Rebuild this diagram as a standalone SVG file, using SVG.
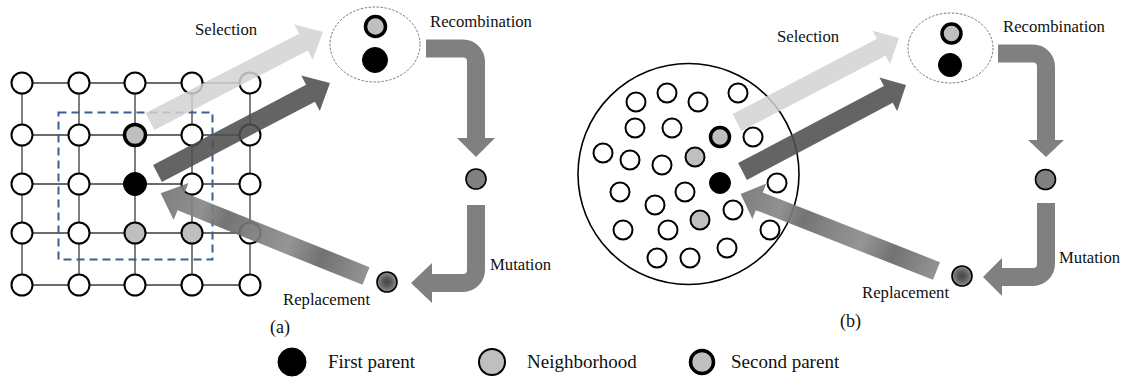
<svg xmlns="http://www.w3.org/2000/svg" width="1128" height="385" viewBox="0 0 1128 385">
<style>
.lbl{font-family:"Liberation Serif","Times New Roman",serif;font-size:16.7px;fill:#111}
.cap{font-family:"Liberation Serif","Times New Roman",serif;font-size:18px;fill:#111}
.leg{font-family:"Liberation Serif","Times New Roman",serif;font-size:19px;fill:#111}
.gl{stroke:#3a3a3a;stroke-width:1.3;fill:none}
.n{fill:#fff;stroke:#000;stroke-width:2}
.nb{fill:#bfbfbf;stroke:#000;stroke-width:2}
.sp{fill:#bfbfbf;stroke:#000;stroke-width:3.5}
.fp{fill:#000;stroke:#000;stroke-width:1}
.mid{fill:#808080;stroke:#000;stroke-width:1.6}
.rep{fill:url(#rg);stroke:#000;stroke-width:1.6}
.pool{fill:none;stroke:#777;stroke-width:1;stroke-dasharray:2.5 1.5}
.light{fill:#d2d2d2;opacity:0.85}
.dark{fill:#4f4f4f;opacity:0.88}
.bend{fill:none;stroke:#808080;stroke-width:18}
.head{fill:#808080}
</style>
<defs>
<radialGradient id="rg" cx="0.5" cy="0.5" r="0.5">
<stop offset="0" stop-color="#454545"/>
<stop offset="0.45" stop-color="#5c5c5c"/>
<stop offset="1" stop-color="#8e8e8e"/>
</radialGradient>
<linearGradient id="ga" gradientUnits="userSpaceOnUse" x1="366" y1="276" x2="161" y2="193">
<stop offset="0" stop-color="#8a8a8a"/>
<stop offset="0.22" stop-color="#666"/>
<stop offset="0.38" stop-color="#8c8c8c"/>
<stop offset="0.55" stop-color="#7a7a7a"/>
<stop offset="0.68" stop-color="#686868"/>
<stop offset="0.8" stop-color="#878787"/>
<stop offset="1" stop-color="#747474"/>
</linearGradient>
<linearGradient id="gb" gradientUnits="userSpaceOnUse" x1="936" y1="271" x2="741" y2="194">
<stop offset="0" stop-color="#8a8a8a"/>
<stop offset="0.22" stop-color="#666"/>
<stop offset="0.38" stop-color="#8c8c8c"/>
<stop offset="0.55" stop-color="#7a7a7a"/>
<stop offset="0.68" stop-color="#686868"/>
<stop offset="0.8" stop-color="#878787"/>
<stop offset="1" stop-color="#747474"/>
</linearGradient>
</defs>
<rect width="1128" height="385" fill="#fff"/>

<!-- (a) cellular grid -->
<g id="grid-lines" class="gl">
<line x1="22" y1="83" x2="250" y2="83"/>
<line x1="22" y1="135" x2="250" y2="135"/>
<line x1="22" y1="184" x2="250" y2="184"/>
<line x1="22" y1="233" x2="250" y2="233"/>
<line x1="22" y1="285" x2="250" y2="285"/>
<line x1="22" y1="83" x2="22" y2="285"/>
<line x1="79" y1="83" x2="79" y2="285"/>
<line x1="135" y1="83" x2="135" y2="285"/>
<line x1="192" y1="83" x2="192" y2="285"/>
<line x1="250" y1="83" x2="250" y2="285"/>
</g>
<g id="neighborhood-box"><rect x="58.5" y="112.5" width="154" height="147" fill="none" stroke="#3b6190" stroke-width="2" stroke-dasharray="8 5"/></g>
<g id="grid-nodes">
<circle class="n" cx="22" cy="83" r="10.5"/><circle class="n" cx="79" cy="83" r="10.5"/><circle class="n" cx="135" cy="83" r="10.5"/><circle class="n" cx="192" cy="83" r="10.5"/><circle class="n" cx="250" cy="83" r="10.5"/>
<circle class="n" cx="22" cy="135" r="10.5"/><circle class="n" cx="79" cy="135" r="10.5"/><circle class="sp" cx="135" cy="135" r="10.5"/><circle class="n" cx="192" cy="135" r="10.5"/><circle class="n" cx="250" cy="135" r="10.5"/>
<circle class="n" cx="22" cy="184" r="10.5"/><circle class="n" cx="79" cy="184" r="10.5"/><circle class="fp" cx="135" cy="184" r="11.5"/><circle class="n" cx="192" cy="184" r="10.5"/><circle class="n" cx="250" cy="184" r="10.5"/>
<circle class="n" cx="22" cy="233" r="10.5"/><circle class="n" cx="79" cy="233" r="10.5"/><circle class="nb" cx="135" cy="233" r="10.5"/><circle class="nb" cx="192" cy="233" r="10.5"/><circle class="n" cx="250" cy="233" r="10.5"/>
<circle class="n" cx="22" cy="285" r="10.5"/><circle class="n" cx="79" cy="285" r="10.5"/><circle class="n" cx="135" cy="285" r="10.5"/><circle class="n" cx="192" cy="285" r="10.5"/><circle class="n" cx="250" cy="285" r="10.5"/>
</g>

<!-- (b) panmictic population -->
<g id="population">
<circle cx="688.5" cy="174" r="110.5" fill="none" stroke="#000" stroke-width="1.6"/>
<circle class="n" cx="636" cy="102" r="9.5"/><circle class="n" cx="667" cy="93" r="9.5"/><circle class="n" cx="698" cy="102" r="9.5"/><circle class="n" cx="738" cy="93" r="9.5"/>
<circle class="n" cx="635" cy="128" r="9.5"/><circle class="n" cx="672" cy="128" r="9.5"/><circle class="sp" cx="720" cy="137" r="9.5"/><circle class="n" cx="753" cy="137" r="9.5"/>
<circle class="n" cx="603" cy="153" r="9.5"/><circle class="n" cx="630" cy="160" r="9.5"/><circle class="n" cx="662" cy="165" r="9.5"/><circle class="nb" cx="695" cy="157" r="9.5"/><circle class="fp" cx="720" cy="183" r="10.5"/><circle class="n" cx="777" cy="183" r="9.5"/>
<circle class="n" cx="620" cy="192" r="9.5"/><circle class="n" cx="685" cy="192" r="9.5"/><circle class="n" cx="655" cy="205" r="9.5"/><circle class="n" cx="733" cy="210" r="9.5"/><circle class="nb" cx="700" cy="220" r="9.5"/>
<circle class="n" cx="623" cy="230" r="9.5"/><circle class="n" cx="668" cy="230" r="9.5"/><circle class="n" cx="770" cy="230" r="9.5"/><circle class="n" cx="727" cy="248" r="9.5"/><circle class="n" cx="657" cy="258" r="9.5"/><circle class="n" cx="690" cy="258" r="9.5"/>
</g>

<!-- parent pools -->
<g id="parents-a">
<ellipse class="pool" cx="375" cy="44.5" rx="45" ry="37.5"/>
<circle class="sp" cx="375.5" cy="26.5" r="10"/>
<circle class="fp" cx="375" cy="60" r="12.5"/>
</g>
<g id="parents-b">
<ellipse class="pool" cx="950.5" cy="48" rx="42.5" ry="35"/>
<circle class="sp" cx="951.5" cy="33.5" r="9.5"/>
<circle class="fp" cx="950" cy="65" r="11.5"/>
</g>
<g id="offspring-a"><circle class="mid" cx="476" cy="179" r="10"/></g>
<g id="mutant-a"><circle class="rep" cx="387" cy="282" r="10"/></g>
<g id="offspring-b"><circle class="mid" cx="1045.5" cy="179.5" r="10"/></g>
<g id="mutant-b"><circle class="rep" cx="962" cy="276" r="10"/></g>

<!-- connectors -->
<g id="connectors">
<polygon class="light" points="154.37,129.94 307.83,50.55 312.65,59.87 323,32 294.27,24.35 299.10,33.67 145.64,113.06"/>
<polygon class="dark" points="161.91,181.91 314.93,101.63 319.81,110.93 330,83 301.23,75.51 306.11,84.81 153.09,165.09"/>
<polygon fill="url(#ga)" opacity="0.92" points="369.55,267.19 184.66,192.71 188.58,182.97 160.7,193.3 173.64,220.07 177.56,210.33 362.45,284.81"/>
<path class="bend" d="M426,48.5 H463 A13,13 0 0 1 476,61.5 V139"/>
<polygon class="head" points="457,138 495,138 476,157"/>
<path class="bend" d="M476,205 V270 A13,13 0 0 1 463,283 H431"/>
<polygon class="head" points="432,263 432,303 411,283"/>

<polygon class="light" points="741.39,130.92 885.66,55.67 890.06,64.10 899,38 872.48,30.40 876.88,38.83 732.61,114.08"/>
<polygon class="dark" points="746.94,179.90 892.76,102.75 897.20,111.14 906,85 879.44,77.56 883.88,85.95 738.06,163.10"/>
<polygon fill="url(#gb)" opacity="0.92" points="939.98,262.16 762.79,192.48 766.26,183.64 740.7,194 752.36,219.0 755.83,210.16 933.02,279.84"/>
<path class="bend" d="M998,53.5 H1033 A13,13 0 0 1 1046,66.5 V141" stroke-width="17.5"/>
<polygon class="head" points="1028,140 1064,140 1046,157"/>
<path class="bend" d="M1046,203 V264 A13,13 0 0 1 1033,277 H1001" stroke-width="17.5"/>
<polygon class="head" points="1002,258 1002,296 983,277"/>
</g>

<!-- labels -->
<g id="labels">
<text class="lbl" x="195" y="35">Selection</text>
<text class="lbl" x="430" y="27">Recombination</text>
<text class="lbl" x="490" y="270">Mutation</text>
<text class="lbl" x="283" y="305">Replacement</text>
<text class="cap" x="270" y="333">(a)</text>
<text class="lbl" x="777" y="42">Selection</text>
<text class="lbl" x="1003" y="32">Recombination</text>
<text class="lbl" x="1059" y="263">Mutation</text>
<text class="lbl" x="862" y="298">Replacement</text>
<text class="cap" x="840" y="327">(b)</text>
</g>

<!-- legend -->
<g id="legend-first"><circle class="fp" cx="292" cy="362" r="14"/><text class="leg" x="328" y="368">First parent</text></g>
<g id="legend-neighborhood"><circle class="nb" cx="492" cy="362" r="13"/><text class="leg" x="527" y="368">Neighborhood</text></g>
<g id="legend-second"><circle class="sp" cx="702" cy="362" r="11.5" stroke-width="5"/><text class="leg" x="731" y="368">Second parent</text></g>
</svg>
